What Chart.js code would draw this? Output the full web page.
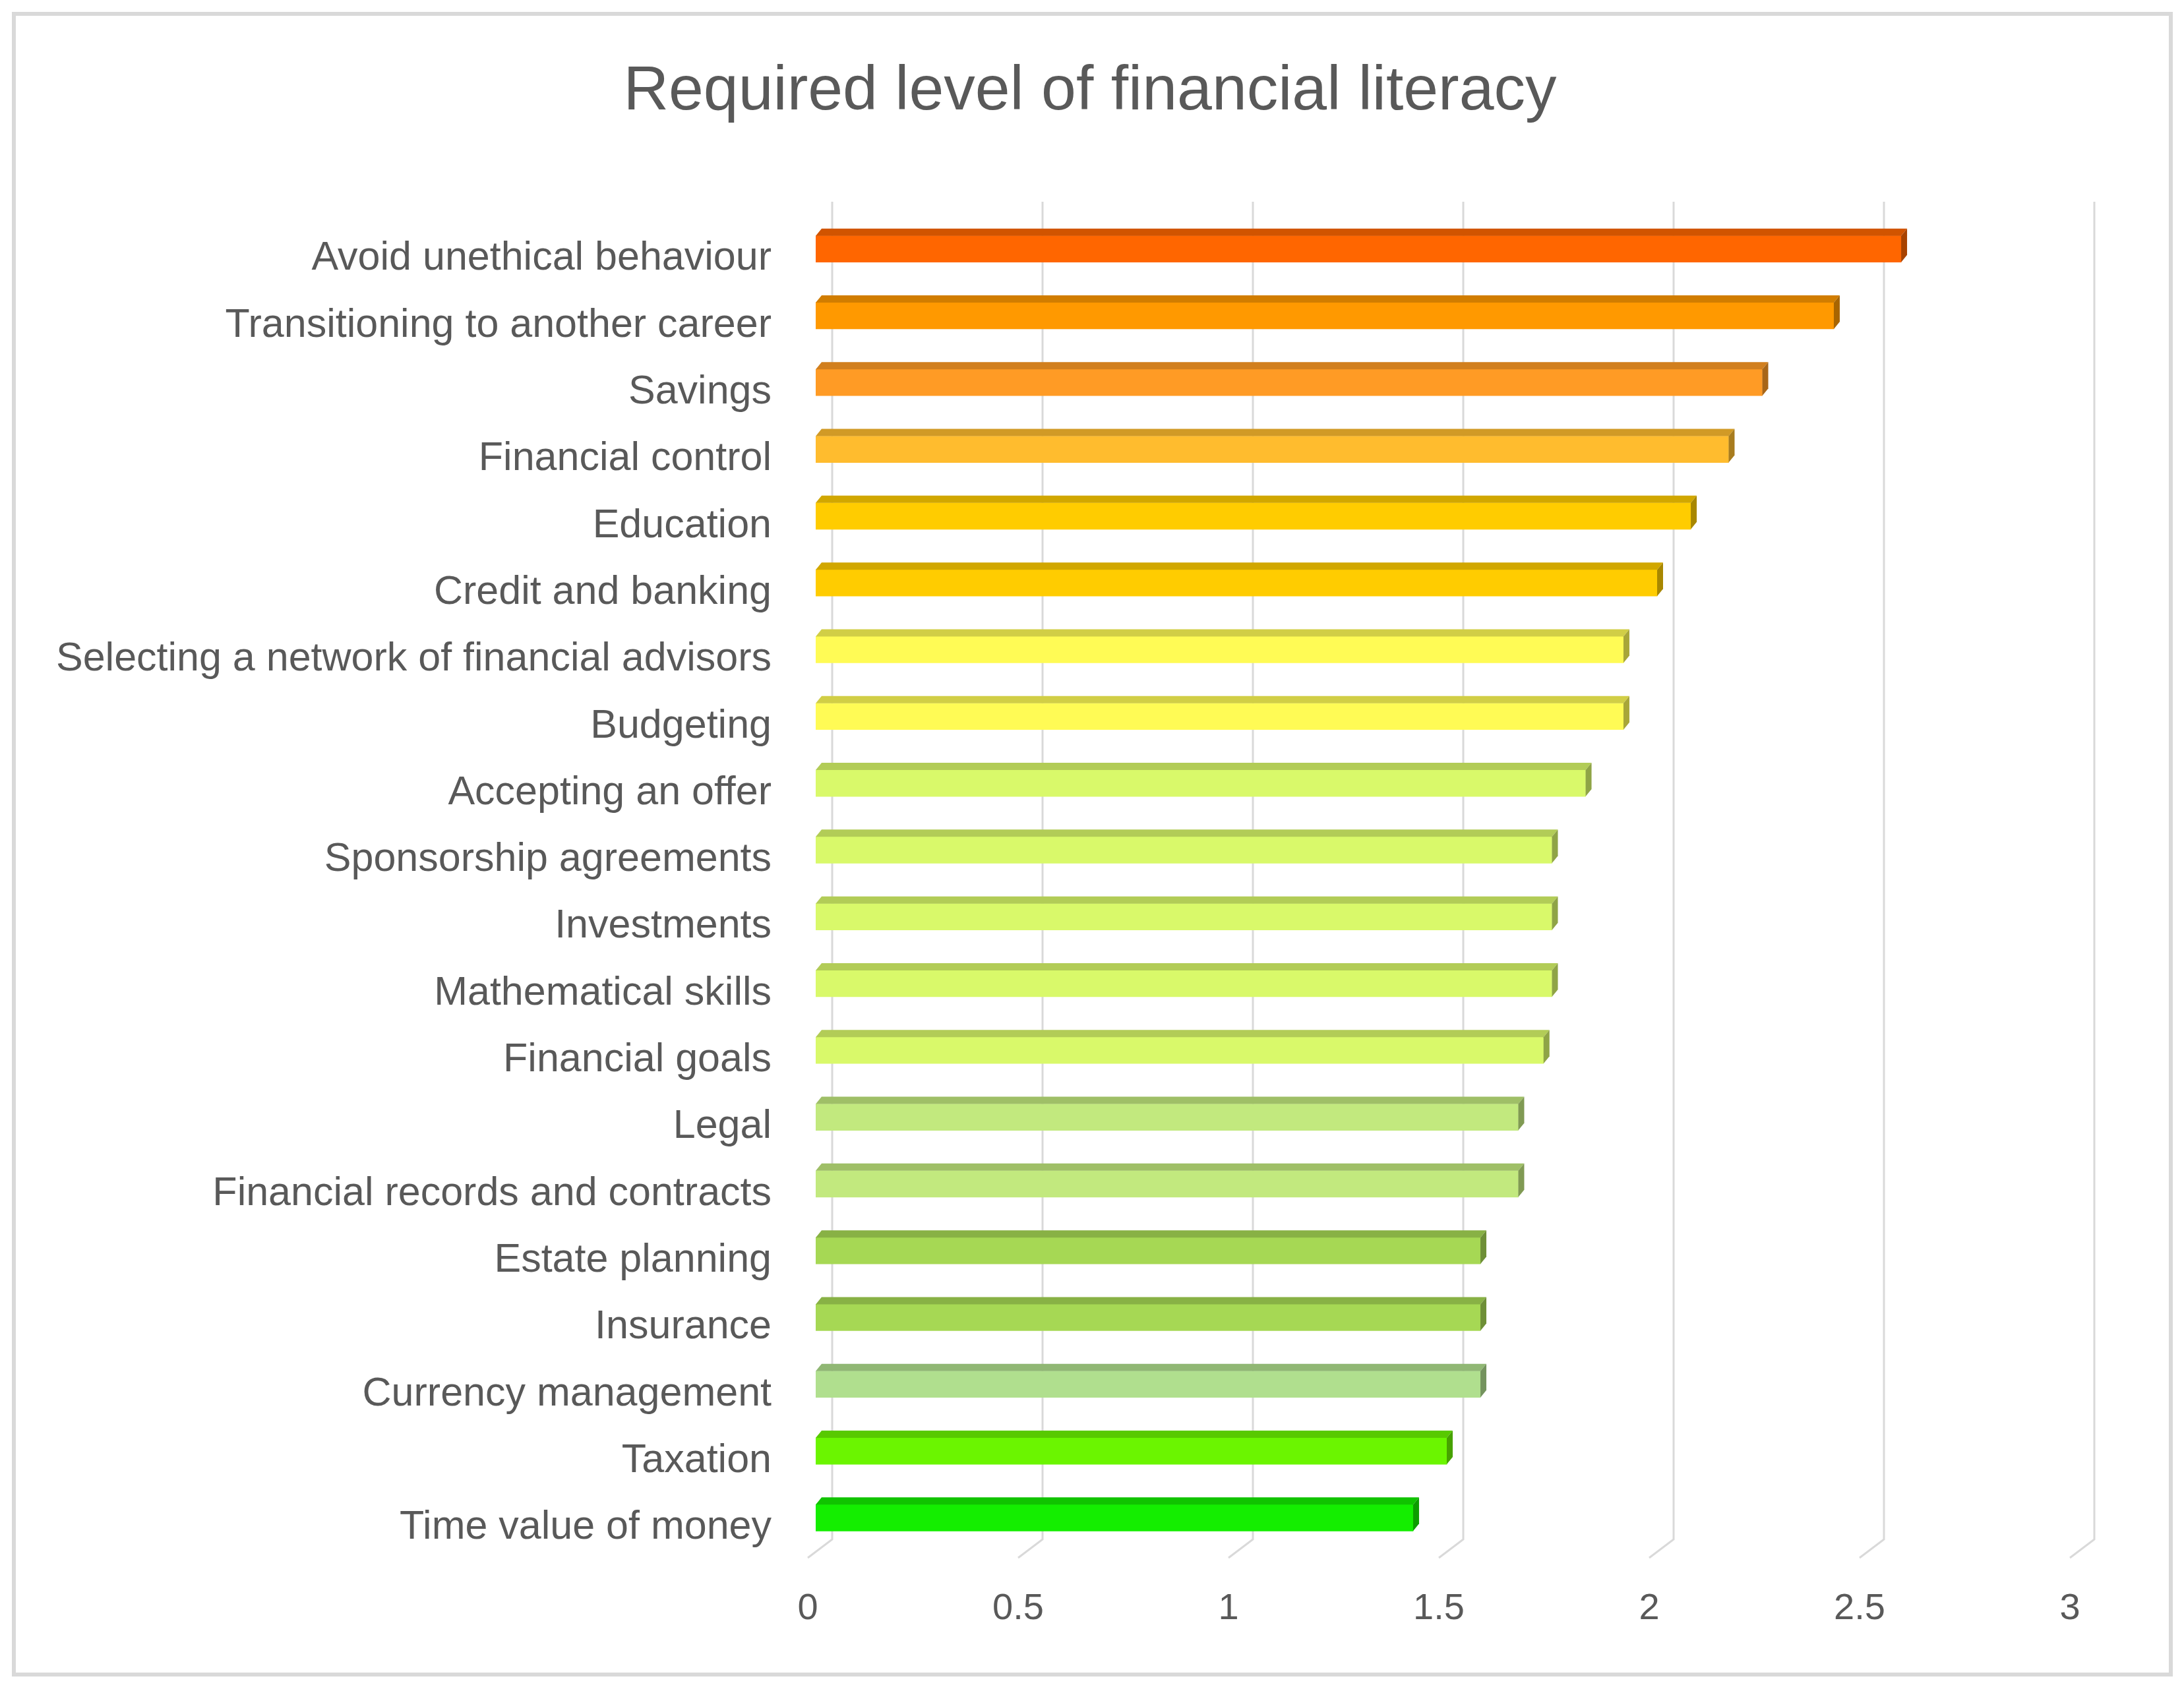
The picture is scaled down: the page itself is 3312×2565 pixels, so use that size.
<!DOCTYPE html>
<html>
<head>
<meta charset="utf-8">
<script src="https://cdn.jsdelivr.net/npm/chart.js@4.4.1/dist/chart.umd.min.js"></script>
<style>
  body { margin: 0; background: #fff; overflow: hidden; }
  #frame {
    position: absolute; left: 18px; top: 18px;
    width: 3277px; height: 2525px;
    box-sizing: border-box;
    border: 6px solid #d9d9d9;
  }
  #chart { position: absolute; left: 0; top: 0; }
</style>
</head>
<body>
<div id="frame"></div>
<canvas id="chart" width="3312" height="2565"></canvas>
<script>
// data
const chartTitle = "Required level of financial literacy";
const categories = [
  "Avoid unethical behaviour",
  "Transitioning to another career",
  "Savings",
  "Financial control",
  "Education",
  "Credit and banking",
  "Selecting a network of financial advisors",
  "Budgeting",
  "Accepting an offer",
  "Sponsorship agreements",
  "Investments",
  "Mathematical skills",
  "Financial goals",
  "Legal",
  "Financial records and contracts",
  "Estate planning",
  "Insurance",
  "Currency management",
  "Taxation",
  "Time value of money"
];
const levels = [2.58, 2.42, 2.25, 2.17, 2.08, 2.00, 1.92, 1.92, 1.83, 1.75,
                1.75, 1.75, 1.73, 1.67, 1.67, 1.58, 1.58, 1.58, 1.50, 1.42];
const xTicks = [0, 0.5, 1, 1.5, 2, 2.5, 3];
const xTickLabels = ["0", "0.5", "1", "1.5", "2", "2.5", "3"];

// bar colours, one per category
const barColors = [
  "#FF6600", "#FF9900", "#FF9B25", "#FFBC2E", "#FFCC00", "#FFCC00",
  "#FFFB55", "#FFFB55", "#D9F96A", "#D9F96A", "#D9F96A", "#D9F96A",
  "#D9F96A", "#C2E97E", "#C2E97E", "#A6D854", "#A6D854", "#B0DF8E",
  "#6BF500", "#14EE00"
];

const FONT = "'Liberation Sans', Arial, sans-serif";
const TEXT = "#595959";

function shade(hex, f) {
  var n = parseInt(hex.slice(1), 16);
  var r = Math.round(((n >> 16) & 255) * f);
  var g = Math.round(((n >> 8) & 255) * f);
  var b = Math.round((n & 255) * f);
  return "rgb(" + r + "," + g + "," + b + ")";
}

// title centred on the whole frame, not on the plot box
const frameTitle = {
  id: 'frameTitle',
  afterDraw(chart) {
    const ctx = chart.ctx;
    ctx.save();
    ctx.fillStyle = TEXT;
    ctx.font = "95px " + FONT;
    ctx.textAlign = 'center';
    ctx.textBaseline = 'middle';
    ctx.fillText(chartTitle, 1653, 140);
    ctx.restore();
  }
};

// back wall gridlines + the slanted floor ticks
const backGrid = {
  id: 'backGrid',
  beforeDatasetsDraw(chart) {
    const ctx = chart.ctx, xs = chart.scales.x, area = chart.chartArea;
    ctx.save();
    ctx.strokeStyle = '#d9d9d9';
    ctx.lineWidth = 3;
    xTicks.forEach(function (v) {
      var px = xs.getPixelForValue(v) + 25;
      ctx.beginPath();
      ctx.moveTo(px, area.top - 21);
      ctx.lineTo(px, area.bottom - 18);
      ctx.lineTo(px - 37, area.bottom + 10);
      ctx.stroke();
    });
    ctx.restore();
  }
};

// top and side faces so the bars look like the 3-D ones
const bar3d = {
  id: 'bar3d',
  afterDatasetsDraw(chart) {
    const ctx = chart.ctx;
    const dx = 9, dy = 11;
    chart.getDatasetMeta(0).data.forEach(function (bar, i) {
      var p = bar.getProps(['x', 'y', 'base', 'height'], true);
      var top = p.y - p.height / 2, bot = p.y + p.height / 2;
      var col = barColors[i];
      ctx.save();
      ctx.fillStyle = shade(col, 0.82);
      ctx.beginPath();
      ctx.moveTo(p.base, top);
      ctx.lineTo(p.base + dx, top - dy);
      ctx.lineTo(p.x + dx, top - dy);
      ctx.lineTo(p.x, top);
      ctx.closePath();
      ctx.fill();
      ctx.fillStyle = shade(col, 0.66);
      ctx.beginPath();
      ctx.moveTo(p.x, top);
      ctx.lineTo(p.x + dx, top - dy);
      ctx.lineTo(p.x + dx, bot - dy);
      ctx.lineTo(p.x, bot);
      ctx.closePath();
      ctx.fill();
      ctx.restore();
    });
  }
};

new Chart(document.getElementById('chart'), {
  type: 'bar',
  data: {
    labels: categories,
    datasets: [{
      label: 'Level',
      data: levels,
      backgroundColor: barColors,
      borderWidth: 0,
      barThickness: 40
    }]
  },
  options: {
    indexAxis: 'y',
    responsive: false,
    animation: false,
    devicePixelRatio: 1,
    layout: {
      padding: { top: 327, left: 40, right: 161, bottom: 62 }
    },
    plugins: {
      legend: { display: false },
      tooltip: { enabled: false },
      title: { display: false }
    },
    scales: {
      x: {
        min: 0,
        max: 3,
        afterFit: function (scale) { scale.height = 150; },
        afterBuildTicks: function (scale) {
          scale.ticks = xTicks.map(function (v) { return { value: v }; });
        },
        grid: { display: false, drawTicks: false },
        border: { display: false },
        ticks: {
          color: TEXT,
          padding: 54,
          labelOffset: -12,
          maxRotation: 0,
          callback: function (value, index) { return xTickLabels[index]; },
          font: { size: 56, family: FONT }
        }
      },
      y: {
        afterFit: function (scale) { scale.width = 1197; },
        grid: { display: false, drawTicks: false },
        border: { display: false },
        ticks: {
          color: TEXT,
          padding: 67,
          labelOffset: 15,
          autoSkip: false,
          font: { size: 61, family: FONT }
        }
      }
    }
  },
  plugins: [backGrid, bar3d, frameTitle]
});
</script>
</body>
</html>
